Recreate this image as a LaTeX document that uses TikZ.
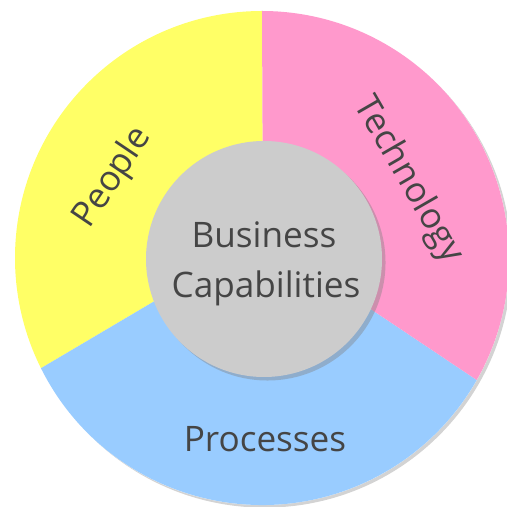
\documentclass[tikz,border=0pt]{standalone}
\usepackage{fontspec}
\setmainfont{Open Sans}
\usetikzlibrary{shadows,calc}
\definecolor{peopleyellow}{HTML}{FFFF66}
\definecolor{techpink}{HTML}{FF99CC}
\definecolor{procblue}{HTML}{99CCFF}
\definecolor{coregrey}{HTML}{CCCCCC}
\definecolor{labelgrey}{HTML}{454545}
\tikzset{
ring/.style = {fill=white, drop shadow={shadow xshift=1.5pt, shadow yshift=-1.5pt, opacity=0.35}},
core/.style = {fill=coregrey, drop shadow={shadow xshift=2pt, shadow yshift=-2pt, opacity=0.4}},
seglabel/.style = {text=labelgrey, font=\fontsize{20}{24}\selectfont, inner sep=0pt},
corelabel/.style = {text=labelgrey, font=\fontsize{20}{24}\selectfont, inner sep=0pt, anchor=base}
}

\begin{document}
\begin{tikzpicture}[x=0.02cm, y=0.02cm]
    \useasboundingbox (0,0) rectangle (507,507);

    \coordinate (c) at (262,249);
    \coordinate (hub) at (263,270);

    % outer ring and its three segments
    \path[ring] (c) circle[radius=247];
    \fill[peopleyellow] (hub) -- ($(c)+(90:247)$) arc[start angle=90, end angle=206.5, radius=247] -- cycle;
    \fill[procblue] (hub) -- ($(c)+(206.5:247)$) arc[start angle=206.5, end angle=330.4, radius=247] -- cycle;
    \fill[techpink] (hub) -- ($(c)+(330.4:247)$) arc[start angle=330.4, end angle=450, radius=247] -- cycle;

    % centre
    \path[core] (264,248) circle[radius=118];

    \node[corelabel] (business) at (264,259) {Business};
    \node[corelabel] (capabilities) at (266,209) {Capabilities};

    \node[seglabel, rotate=56] (people) at (113,329) {People};
    \node[seglabel, rotate=-60] (technology) at (408,327) {Technology};
    \node[seglabel, anchor=base] (processes) at (265,55) {Processes};
\end{tikzpicture}
\end{document}
